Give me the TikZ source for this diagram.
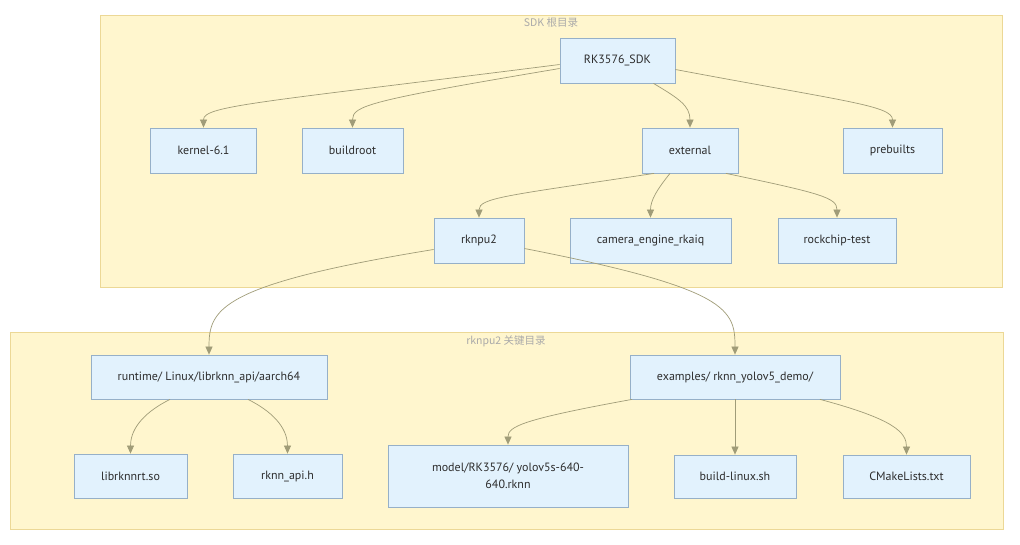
\documentclass[tikz,border=0pt]{standalone}
\usepackage{fontspec}
\setmainfont{PT Sans}
\newfontfamily\cjk{Noto Sans CJK SC}
\usepackage{tikz}
\usetikzlibrary{arrows.meta}
\definecolor{grpfill}{RGB}{255,246,206}
\definecolor{grpline}{RGB}{236,216,150}
\definecolor{boxfill}{RGB}{226,242,253}
\definecolor{boxline}{RGB}{150,176,200}
\definecolor{edgecol}{RGB}{160,156,120}
\definecolor{txtcol}{RGB}{45,45,45}
\definecolor{grptxt}{RGB}{170,170,170}

\begin{document}
\begin{tikzpicture}[x=1pt,y=1pt,
	dirbox/.style={draw=boxline, fill=boxfill, line width=0.8pt, minimum height=45pt, text=txtcol, font=\fontsize{12}{17}\selectfont, inner sep=0pt},
	group/.style={draw=grpline, fill=grpfill, line width=0.8pt},
	grouplabel/.style={text=grptxt, font=\cjk\fontsize{10.5}{12}\selectfont},
	edge/.style={draw=edgecol, line width=0.7pt, -{Triangle[length=8pt,width=7pt]}}]
	\useasboundingbox (0,0) rectangle (1020,-545);
	\fill[white] (0,0) rectangle (1020,-545);
	\draw[group] (100,-15) rectangle (1002,-287);
	\node[grouplabel] (sdkgrp) at (551,-23) {SDK 根目录};
	\draw[group] (10,-332) rectangle (1003,-529);
	\node[grouplabel] (npugrp) at (506,-341) {rknpu2 关键目录};
	\node[dirbox, minimum width=115pt] (sdk) at (617.5,-60.5) {RK3576\_SDK};
	\node[dirbox, minimum width=106pt] (kernel) at (203.5,-150.5) {kernel-6.1};
	\node[dirbox, minimum width=101pt] (buildroot) at (352.5,-150.5) {buildroot};
	\node[dirbox, minimum width=96pt] (external) at (690,-150.5) {external};
	\node[dirbox, minimum width=99pt] (prebuilts) at (892.5,-150.5) {prebuilts};
	\node[dirbox, minimum width=90pt] (rknpu) at (479,-240.5) {rknpu2};
	\node[dirbox, minimum width=161pt] (camera) at (650.5,-240.5) {camera\_engine\_rkaiq};
	\node[dirbox, minimum width=118pt] (rocktest) at (837,-240.5) {rockchip-test};
	\node[dirbox, minimum width=236pt, minimum height=44pt] (runtime) at (209,-377) {runtime/ Linux/librknn\_api/aarch64};
	\node[dirbox, minimum width=210pt, minimum height=44pt] (examples) at (735,-377) {examples/ rknn\_yolov5\_demo/};
	\node[dirbox, minimum width=113pt, minimum height=44pt] (librt) at (130.5,-476) {librknnrt.so};
	\node[dirbox, minimum width=109pt, minimum height=44pt] (apih) at (287.5,-476) {rknn\_api.h};
	\node[dirbox, minimum width=240pt, minimum height=62pt, align=center] (model) at (508,-476) {model/RK3576/ yolov5s-640-\\640.rknn};
	\node[dirbox, minimum width=122pt, minimum height=43pt] (build) at (735,-476.5) {build-linux.sh};
	\node[dirbox, minimum width=127pt, minimum height=43pt] (cmake) at (906.5,-476.5) {CMakeLists.txt};
	\draw[edge] ([yshift=-4pt]sdk.west) .. controls +(-300,-38) and +(0,22) .. (kernel.north);
	\draw[edge] ([yshift=-8pt]sdk.west) .. controls +(-190,-32) and +(0,22) .. (buildroot.north);
	\draw[edge] ([xshift=36pt]sdk.south) .. controls +(25,-15) and +(0,22) .. (external.north);
	\draw[edge] ([yshift=-9pt]sdk.east) .. controls +(170,-32) and +(0,22) .. (prebuilts.north);
	\draw[edge] ([xshift=-36pt]external.south) .. controls +(-145,-22) and +(0,20) .. (rknpu.north);
	\draw[edge] ([xshift=-20pt]external.south) .. controls +(-12,-15) and +(0,18) .. (camera.north);
	\draw[edge] ([xshift=36pt]external.south) .. controls +(95,-20) and +(0,20) .. (rocktest.north);
	\draw[edge] ([yshift=-9pt]rknpu.west) .. controls +(-215,-35) and +(0,45) .. (runtime.north);
	\draw[edge] ([yshift=-8pt]rknpu.east) .. controls +(205,-40) and +(0,45) .. (examples.north);
	\draw[edge] ([xshift=-39pt]runtime.south) .. controls +(-30,-15) and +(0,22) .. (librt.north);
	\draw[edge] ([xshift=39pt]runtime.south) .. controls +(30,-15) and +(0,22) .. (apih.north);
	\draw[edge] ([xshift=-103pt]examples.south) .. controls +(-110,-20) and +(0,18) .. (model.north);
	\draw[edge] (examples.south) -- (build.north);
	\draw[edge] ([xshift=85pt]examples.south) .. controls +(75,-20) and +(0,22) .. (cmake.north);
\end{tikzpicture}
\end{document}
